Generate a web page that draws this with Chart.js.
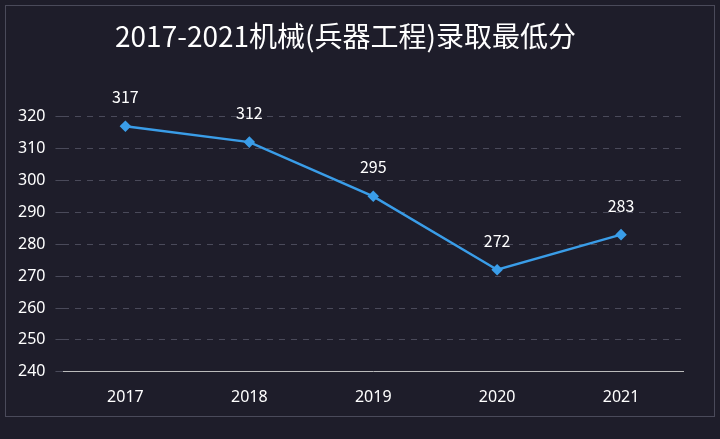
<!DOCTYPE html>
<html><head><meta charset="utf-8">
<script src="https://cdn.jsdelivr.net/npm/chart.js@4/dist/chart.umd.min.js"></script>
<style>
html,body{margin:0;padding:0;background:#fff;}
#wrap{position:relative;width:720px;height:439px;background:#1e1d2a;}
#frame{position:absolute;left:5px;top:5px;width:708px;height:410px;border:1px solid #4a4a5a;pointer-events:none;}
</style></head>
<body>
<div id="wrap"><canvas id="c" width="720" height="439"></canvas><div id="frame"></div></div>
<script>
const years = ['2017', '2018', '2019', '2020', '2021'];
const scores = [317, 312, 295, 272, 283];
const yTicks = [240, 250, 260, 270, 280, 290, 300, 310, 320];

// draw value labels above each point
const valueLabels = {
    id: 'valueLabels',
    afterDatasetsDraw(chart) {
        const ctx = chart.ctx;
        const meta = chart.getDatasetMeta(0);
        ctx.save();
        ctx.fillStyle = '#ffffff';
        ctx.font = '16px "Noto Sans CJK SC", "Noto Sans", sans-serif';
        ctx.textAlign = 'center';
        ctx.textBaseline = 'middle';
        meta.data.forEach((pt, i) => {
            ctx.fillText(String(scores[i]), pt.x, pt.y - 29);
        });
        ctx.restore();
    }
};

new Chart(document.getElementById('c'), {
    type: 'line',
    data: {
        labels: years,
        datasets: [{
            data: scores,
            borderColor: '#3a9de8',
            backgroundColor: '#3a9de8',
            borderWidth: 2.5,
            pointStyle: 'rectRot',
            pointRadius: 4,
            tension: 0,
            clip: false
        }]
    },
    options: {
        responsive: false,
        animation: false,
        layout: { padding: { left: 8, right: 37, top: 0, bottom: 24 } },
        plugins: {
            legend: { display: false },
            tooltip: { enabled: false },
            title: {
                display: true,
                text: '2017-2021机械(兵器工程)录取最低分',
                color: '#ffffff',
                font: { size: 28, family: '"Noto Sans CJK SC", sans-serif', weight: 'normal' },
                padding: { top: 20, bottom: 63 }
            }
        },
        scales: {
            x: {
                offset: true,
                grid: { display: false },
                border: { color: '#bbbbbb' },
                ticks: { color: '#ffffff', font: { size: 16, family: '"Noto Sans", sans-serif' }, padding: 8 }
            },
            y: {
                min: yTicks[0],
                max: yTicks[yTicks.length - 1],
                afterBuildTicks(axis) { axis.ticks = yTicks.map(v => ({ value: v })); },
                grid: { color: '#4a4a5a', lineWidth: 1 },
                border: { display: false, dash: [6, 6] },
                ticks: { color: '#ffffff', font: { size: 16, family: '"Noto Sans", sans-serif' }, padding: 10 }
            }
        }
    },
    plugins: [valueLabels]
});
</script>
</body></html>
